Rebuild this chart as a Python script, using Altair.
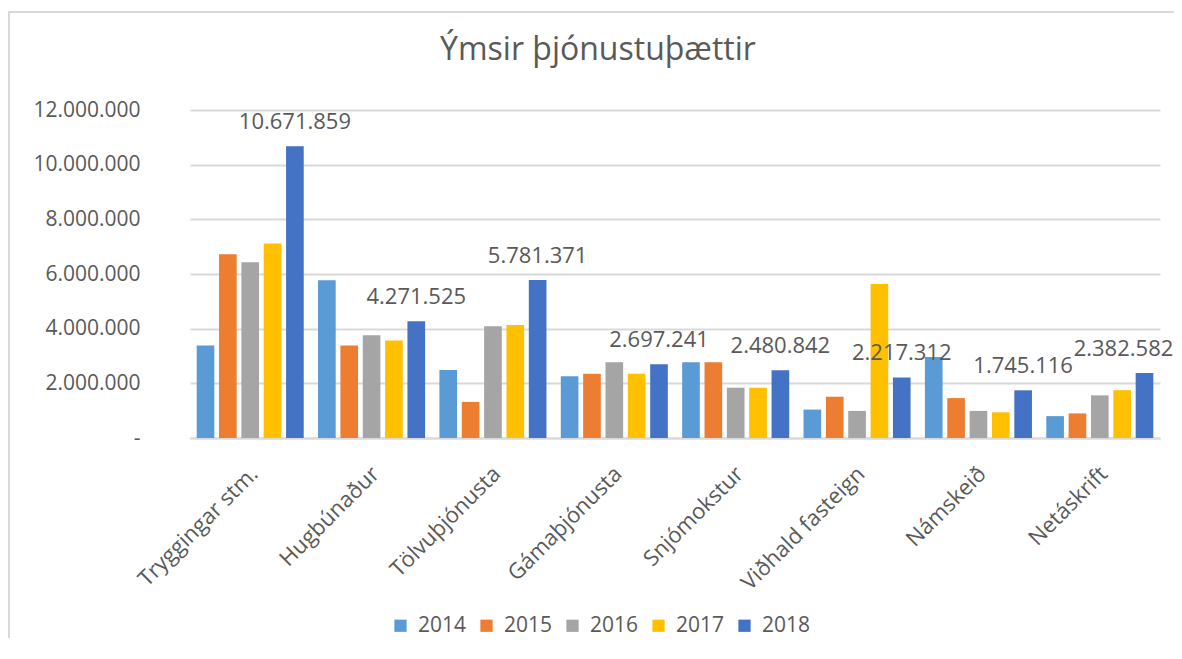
import altair as alt
import pandas as pd

categories = ["Tryggingar stm.", "Hugbúnaður", "Tölvuþjónusta", "Gámaþjónusta",
              "Snjómokstur", "Viðhald fasteign", "Námskeið", "Netáskrift"]
years = ["2014", "2015", "2016", "2017", "2018"]

v2014 = [3380000, 5770000, 2490000, 2260000, 2770000, 1040000, 2960000, 800000]
v2015 = [6720000, 3380000, 1320000, 2350000, 2770000, 1510000, 1460000, 900000]
v2016 = [6430000, 3760000, 4090000, 2770000, 1840000, 990000, 990000, 1560000]
v2017 = [7120000, 3570000, 4130000, 2350000, 1840000, 5630000, 940000, 1750000]
v2018 = [10671859, 4271525, 5781371, 2697241, 2480842, 2217312, 1745116, 2382582]

colors = ["#5B9BD5", "#ED7D31", "#A5A5A5", "#FFC000", "#4472C4"]
y_ticks = [0, 2000000, 4000000, 6000000, 8000000, 10000000, 12000000]

series = [v2014, v2015, v2016, v2017, v2018]
rows = []
for yr, vals in zip(years, series):
    for c, v in zip(categories, vals):
        rows.append({"category": c, "year": yr, "value": v})
df = pd.DataFrame(rows)

FONT = "Open Sans"
GREY = "#595959"
GRID = "#d9d9d9"
LABEL_EXPR = "replace(format(datum.value, ','), regexp(',', 'g'), '.')"

x_enc = alt.X("category:N", sort=categories,
              scale=alt.Scale(paddingInner=0.118, paddingOuter=0.055),
              axis=alt.Axis(title=None, labelAngle=-45, labelAlign="right",
                            labelBaseline="middle", labelPadding=32, labelOffset=4,
                            ticks=False, domainColor=GRID, domainWidth=2,
                            labelFontSize=22, labelColor=GREY, labelFont=FONT))
y_enc = alt.Y("value:Q", scale=alt.Scale(domain=[0, 12000000], nice=False),
              axis=alt.Axis(title=None, values=y_ticks, domain=False, ticks=False,
                            labelPadding=50, labelFontSize=21, labelColor=GREY,
                            labelFont=FONT, gridColor=GRID, gridWidth=2,
                            labelExpr="datum.value == 0 ? '-' : " + LABEL_EXPR))
xoff = alt.XOffset("year:N", scale=alt.Scale(domain=years, paddingInner=0.21, paddingOuter=0))

base = alt.Chart(df)

bars = base.mark_bar().encode(
    x=x_enc,
    y=y_enc,
    xOffset=xoff,
    color=alt.Color("year:N", scale=alt.Scale(domain=years, range=colors),
                    legend=alt.Legend(title=None, orient="none", legendX=200, legendY=505,
                                      direction="horizontal", symbolType="square",
                                      symbolSize=150, symbolStrokeWidth=0,
                                      labelFontSize=21, labelColor=GREY, labelFont=FONT,
                                      columnPadding=9, labelOffset=7, padding=0)),
)

last_cat = categories[-1]
lab_base = base.transform_filter(alt.datum.year == "2018").transform_calculate(
    label=LABEL_EXPR
)
labels_main = lab_base.transform_filter(alt.datum.category != last_cat).mark_text(
    fontSize=22, font=FONT, color=GREY, baseline="middle", dy=-24).encode(
    x=alt.X("category:N", sort=categories),
    y="value:Q",
    xOffset="year:N",
    text="label:N",
)
labels_last = lab_base.transform_filter(alt.datum.category == last_cat).mark_text(
    fontSize=22, font=FONT, color=GREY, baseline="middle", dy=-24, dx=-21).encode(
    x=alt.X("category:N", sort=categories),
    y="value:Q",
    xOffset="year:N",
    text="label:N",
)

border_df = pd.DataFrame({"k": [0]})
left_border = alt.Chart(border_df).mark_rule(color=GRID, strokeWidth=2).encode(
    x=alt.value(-181), y=alt.value(-98), y2=alt.value(560))
top_border = alt.Chart(border_df).mark_rule(color=GRID, strokeWidth=2).encode(
    x=alt.value(-182), x2=alt.value(990), y=alt.value(-98))

chart = alt.layer(bars, labels_main, labels_last, left_border, top_border).properties(
    width=970, height=328,
    title=alt.Title("Ýmsir þjónustuþættir", fontSize=32, font=FONT, color=GREY,
                    fontWeight="normal", anchor="middle", dx=-77, offset=-88,
                    baseline="bottom"),
    autosize=alt.AutoSizeParams(type="none"),
    padding={"left": 182, "top": 102, "right": 14, "bottom": 200},
).configure_view(stroke=None)

chart.save("out.html", embed_options={"renderer": "svg", "actions": False})
